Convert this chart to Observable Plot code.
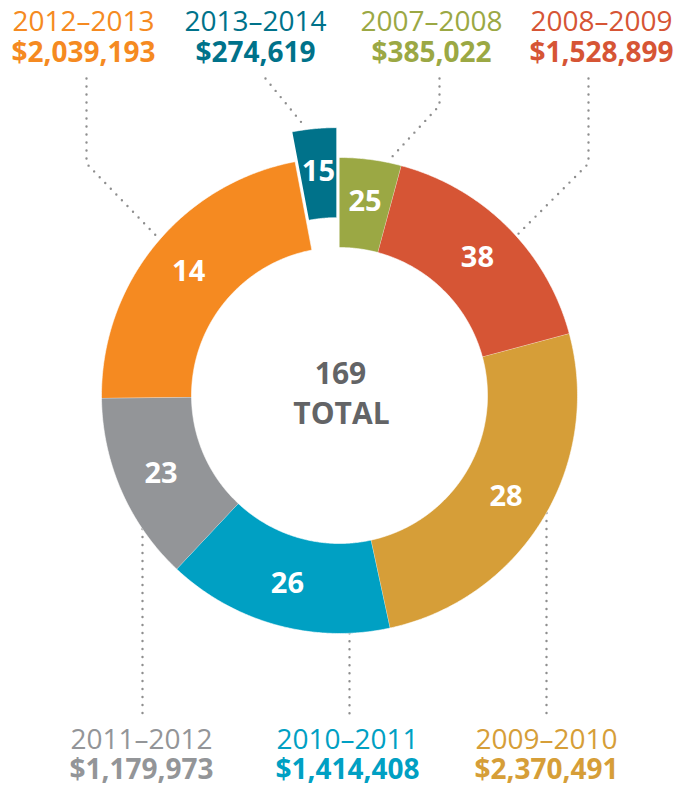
<!DOCTYPE html>
<html><head><meta charset="utf-8">
<script src="https://cdn.jsdelivr.net/npm/d3@7"></script>
<script src="https://cdn.jsdelivr.net/npm/@observablehq/plot@0.6"></script>
<style>body{margin:0;background:#fff}</style>
</head><body><div id="chart"></div>
<script>
// ---- data ----
const years = ["2007–2008","2008–2009","2009–2010","2010–2011","2011–2012","2012–2013","2013–2014"];
const amounts = [385022, 1528899, 2370491, 1414408, 1179973, 2039193, 274619];
const amountLabels = ["$385,022","$1,528,899","$2,370,491","$1,414,408","$1,179,973","$2,039,193","$274,619"];
const counts = [25, 38, 28, 26, 23, 14, 15];
const totalLabel = "TOTAL";
const explodedYear = "2013–2014";

// ---- style / layout ----
const colors = ["#9BA844","#D65535","#D69E38","#00A0C3","#939598","#F58A21","#00728A"];
const W = 677, H = 789;
const cx = 339, cy = 395, rOuter = 238, rInner = 148, rCount = 195, explodeDist = 30;
const topBase1 = 30, topBase2 = 61, botBase1 = 748, botBase2 = 778;
const leaderTop = 78, leaderBottom = 713;
const labelFont = 28;
// per-label layout: label centre x, leader description
const layout = {
  "2007–2008": {lx: 431, side: "top", sx: 439, elbow: 105, angle: 11.8},
  "2008–2009": {lx: 601, side: "top", sx: 588, elbow: 163, angle: 47.9},
  "2009–2010": {lx: 546, side: "bottom", sx: 546},
  "2010–2011": {lx: 347, side: "bottom", sx: 349},
  "2011–2012": {lx: 141, side: "bottom", sx: 142},
  "2012–2013": {lx: 83, side: "top", sx: 86, elbow: 163, angle: 311},
  "2013–2014": {lx: 255, side: "top", sx: 265, elbow: null, angle: -8, rExtra: 4}
};

const rad = d => d * Math.PI / 180;
const pie = d3.pie().sort(null).value(d => d.amount)(years.map((y, i) => ({year: y, amount: amounts[i], count: counts[i]})));

function offsetOf(p) {
  if (p.data.year !== explodedYear) return [0, 0];
  const m = (p.startAngle + p.endAngle) / 2;
  return [explodeDist * Math.sin(m), -explodeDist * Math.cos(m)];
}
const polar = (a, r, off = [0, 0]) => ({x: cx + off[0] + r * Math.sin(a), y: cy + off[1] - r * Math.cos(a)});

// ring segment outlines
const arcPts = [];
for (const p of pie) {
  const off = offsetOf(p);
  const n = Math.max(4, Math.ceil((p.endAngle - p.startAngle) / rad(0.4)));
  for (let i = 0; i <= n; i++) {
    const a = p.startAngle + (p.endAngle - p.startAngle) * i / n;
    arcPts.push({year: p.data.year, ...polar(a, rOuter, off)});
  }
  for (let i = n; i >= 0; i--) {
    const a = p.startAngle + (p.endAngle - p.startAngle) * i / n;
    arcPts.push({year: p.data.year, ...polar(a, rInner, off)});
  }
}

// count labels inside the ring
const countPts = pie.map(p => {
  const m = (p.startAngle + p.endAngle) / 2;
  return {year: p.data.year, text: String(p.data.count), ...polar(m, rCount, offsetOf(p))};
});

// outside labels
const labelPts = [];
years.forEach((y, i) => {
  const L = layout[y];
  const top = L.side === "top";
  labelPts.push({year: y, x: L.lx, y: top ? topBase1 : botBase1, text: y, kind: "year"});
  labelPts.push({year: y, x: L.lx, y: top ? topBase2 : botBase2, text: amountLabels[i], kind: "amount"});
});

// leader lines
const leaderPts = [];
for (const p of pie) {
  const y = p.data.year, L = layout[y];
  if (L.side === "top") {
    leaderPts.push({year: y, x: L.sx, y: leaderTop});
    if (L.elbow != null) leaderPts.push({year: y, x: L.sx, y: L.elbow});
    leaderPts.push({year: y, ...polar(rad(L.angle), rOuter + 2 + (L.rExtra || 0), offsetOf(p))});
  } else {
    const dx = L.sx - cx;
    leaderPts.push({year: y, x: L.sx, y: cy + Math.sqrt(rOuter * rOuter - dx * dx)});
    leaderPts.push({year: y, x: L.sx, y: leaderBottom});
  }
}

const total = d3.sum(counts);

const chart = Plot.plot({
  width: W, height: H, margin: 0,
  x: {domain: [0, W], range: [0, W], axis: null},
  y: {domain: [0, H], range: [0, H], axis: null},
  color: {domain: years, range: colors},
  style: {fontFamily: "'Open Sans', sans-serif", background: "white"},
  marks: [
    Plot.line(leaderPts, {x: "x", y: "y", z: "year", stroke: "#8e8e8e", strokeWidth: 2.4,
      strokeDasharray: "0 8", strokeLinecap: "round", strokeLinejoin: "round"}),
    Plot.line(arcPts, {x: "x", y: "y", z: "year", fill: "year", stroke: "white", strokeWidth: 0.6}),
    Plot.text(countPts, {x: "x", y: "y", text: "text", fill: "white", fontSize: 29, fontWeight: "bold"}),
    Plot.text(labelPts.filter(d => d.kind === "year"), {x: "x", y: "y", text: "text", fill: "year",
      fontSize: labelFont, lineAnchor: "bottom"}),
    Plot.text(labelPts.filter(d => d.kind === "amount"), {x: "x", y: "y", text: "text", fill: "year",
      fontSize: labelFont, fontWeight: "bold", lineAnchor: "bottom"}),
    Plot.text([String(total)], {x: () => cx + 1, y: () => 383, text: d => d, fill: "#636466",
      fontSize: 30, fontWeight: "bold", lineAnchor: "bottom"}),
    Plot.text([totalLabel], {x: () => cx + 2, y: () => 423, text: d => d, fill: "#636466",
      fontSize: 30, fontWeight: "bold", lineAnchor: "bottom"})
  ]
});
document.getElementById("chart").appendChild(chart);
</script>
</body></html>
